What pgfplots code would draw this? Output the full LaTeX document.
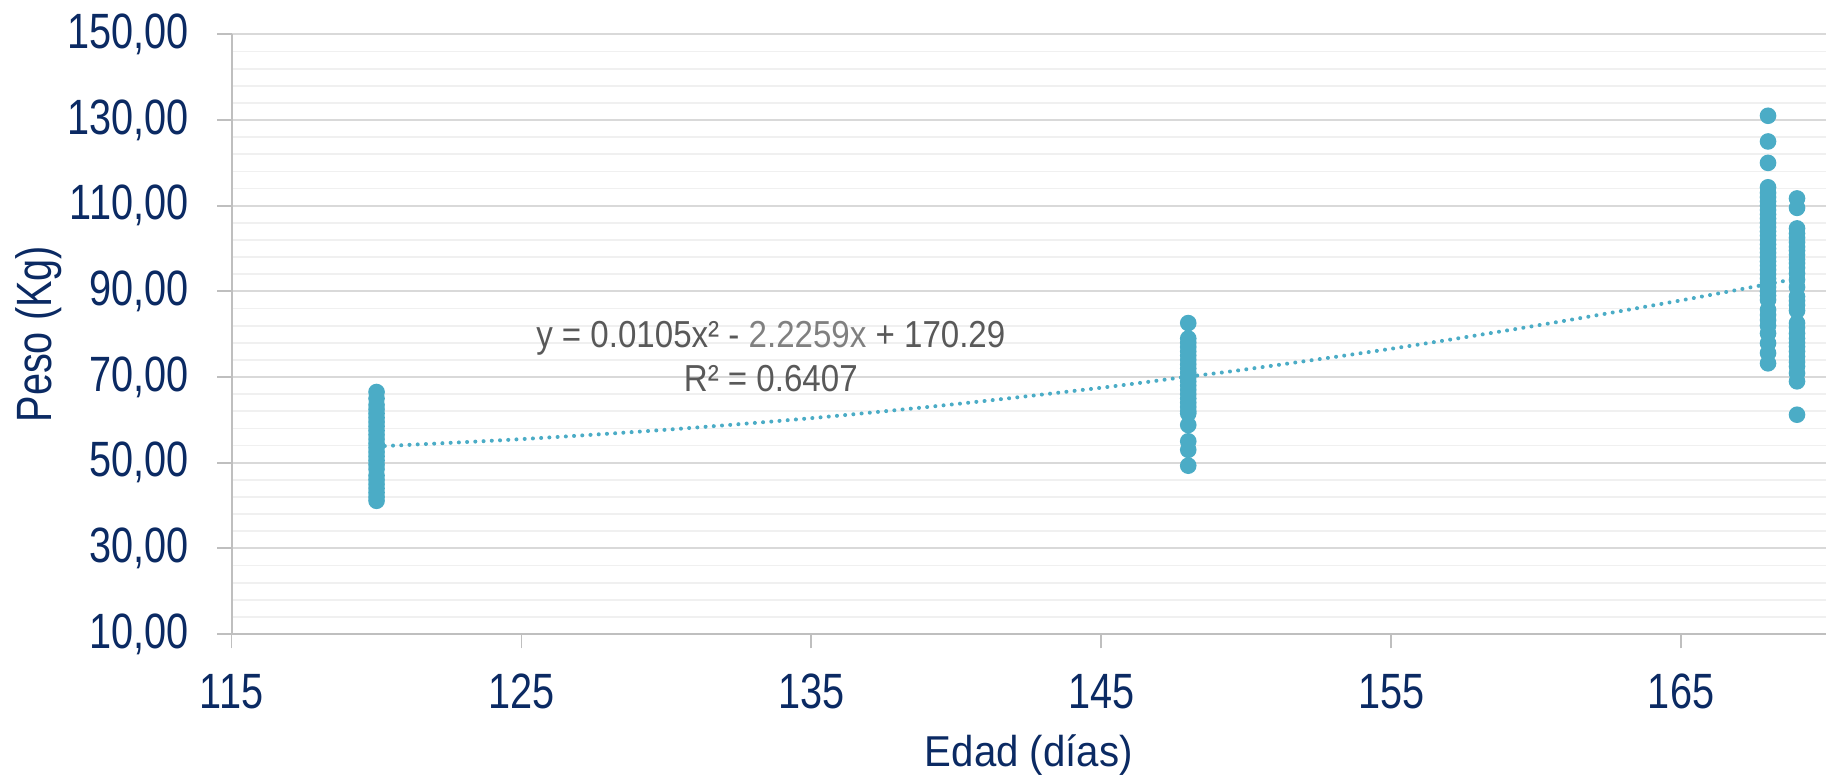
\documentclass[border=0pt]{standalone}
\usepackage{fontspec}
\setmainfont{Liberation Sans}
\newfontfamily\tickfont{Liberation Sans}[FakeStretch=0.8]
\newfontfamily\edadfont{Liberation Sans}[FakeStretch=0.93]
\newfontfamily\eqfont{Liberation Sans}[FakeStretch=0.88]
\usepackage{pgfplots}
\pgfplotsset{compat=1.18}
\definecolor{navy}{HTML}{0B2A63}
\definecolor{aqua}{HTML}{4BACC6}
\definecolor{majgrid}{HTML}{D9D9D9}
\definecolor{mingrid}{HTML}{F0F0F0}
\definecolor{axgray}{HTML}{BFBFBF}
\definecolor{eqgray}{HTML}{595959}
\definecolor{eqlight}{HTML}{808080}
\begin{document}
\begin{tikzpicture}
\useasboundingbox (-57.9pt,-36.75pt) rectangle (398.6pt,158.5pt);
\begin{axis}[
  at={(0,0)}, anchor=south west,
  scale only axis, width=398.6pt, height=149.9pt,
  xmin=115, xmax=170, ymin=10, ymax=150,
  xtick={115,125,...,165}, ytick={10,30,...,150},
  minor y tick num=4,
  ymajorgrids, yminorgrids,
  major grid style={majgrid, line width=0.45pt},
  minor grid style={mingrid, line width=0.45pt},
  axis x line=bottom, axis y line=left,
  axis line style={axgray, line width=0.5pt, -},
  tick align=outside,
  major tick length=3.6pt,
  minor tick length=0pt,
  tick style={axgray, line width=0.45pt},
  /pgf/number format/assume math mode=true,
  ticklabel style={font=\tickfont\fontsize{12.4}{14}\selectfont, text=navy, inner sep=0pt},
  xticklabel style={anchor=base, yshift=-15pt},
  yticklabel style={anchor=east, xshift=-7pt,
    /pgf/number format/.cd, fixed, fixed zerofill, precision=2, use comma},
  xlabel={Edad (días)},
  ylabel={Peso (Kg)},
  xlabel style={font=\edadfont\fontsize{10.8}{12}\selectfont, text=navy, inner sep=0pt,
    at={(axis description cs:0.5,-0.2213)}, anchor=base},
  ylabel style={font=\tickfont\fontsize{12.4}{14}\selectfont, text=navy, inner sep=0pt,
    at={(axis description cs:-0.1129,0.5)}, anchor=base},
  clip=false,
]
% trend line
\addplot[aqua, line width=1pt, line cap=round, dash pattern=on 0.01pt off 2.05pt, smooth]
 coordinates {(120,53.8) (125,55.5) (130,57.7) (135,60.4) (140,63.7) (145,67.5) (148,70.1) (150,71.8) (155,76.6) (160,82.0) (165,87.9) (169,93.0)};
% data
\addplot[only marks, mark=*, mark size=1.875pt, color=aqua, mark options={draw=aqua, fill=aqua}]
 coordinates {
 (120,66.5) (120,65.0) (120,63.5) (120,62.5) (120,61.5) (120,60.5) (120,59.5) (120,58.5)
 (120,57.5) (120,56.5) (120,55.5) (120,54.5) (120,53.5) (120,52.5) (120,51.5) (120,50.5)
 (120,49.5) (120,48.5) (120,47.0) (120,46.0) (120,45.0) (120,44.0) (120,43.0) (120,42.0) (120,41.1)
 (148,82.6) (148,79.0) (148,78.0) (148,77.0) (148,76.0) (148,75.0) (148,74.0) (148,73.0)
 (148,72.0) (148,71.0) (148,70.0) (148,69.0) (148,68.0) (148,67.0) (148,66.0) (148,65.0)
 (148,64.0) (148,63.0) (148,62.0) (148,61.5) (148,58.8) (148,55.0) (148,53.0) (148,49.3)
 (168,131.0) (168,125.0) (168,120.0) (168,114.3) (168,113) (168,112) (168,111) (168,110)
 (168,109) (168,108) (168,107) (168,106) (168,105) (168,104) (168,103) (168,102) (168,101)
 (168,100) (168,99) (168,98) (168,97) (168,96) (168,95) (168,94) (168,93) (168,92) (168,91)
 (168,90) (168,89) (168,88) (168,85.7) (168,84.5) (168,83.3) (168,82.0) (168,80.2)
 (168,77.9) (168,75.6) (168,73.2)
 (169,111.7) (169,109.5) (169,104.7) (169,103.5) (169,102.5) (169,101.5) (169,100.4)
 (169,99.5) (169,98.5) (169,97.5) (169,96.6) (169,95.5) (169,94.2) (169,92.7) (169,91.0)
 (169,88.8) (169,87.8) (169,86.8) (169,85.5) (169,82.6) (169,81.5) (169,80.2) (169,79.0)
 (169,78.0) (169,77.1) (169,76.0) (169,74.8) (169,73.5) (169,72.5) (169,70.9) (169,69.0) (169,61.2)
 };
\node[font=\eqfont\fontsize{9.4}{10.8}\selectfont, text=eqgray, align=center, inner sep=0pt]
  at (axis cs:133.6,74.8) {y = 0.0105x² - \textcolor{eqlight}{2.2259x} + 170.29\\R² = 0.6407};
\end{axis}
\end{tikzpicture}
\end{document}
